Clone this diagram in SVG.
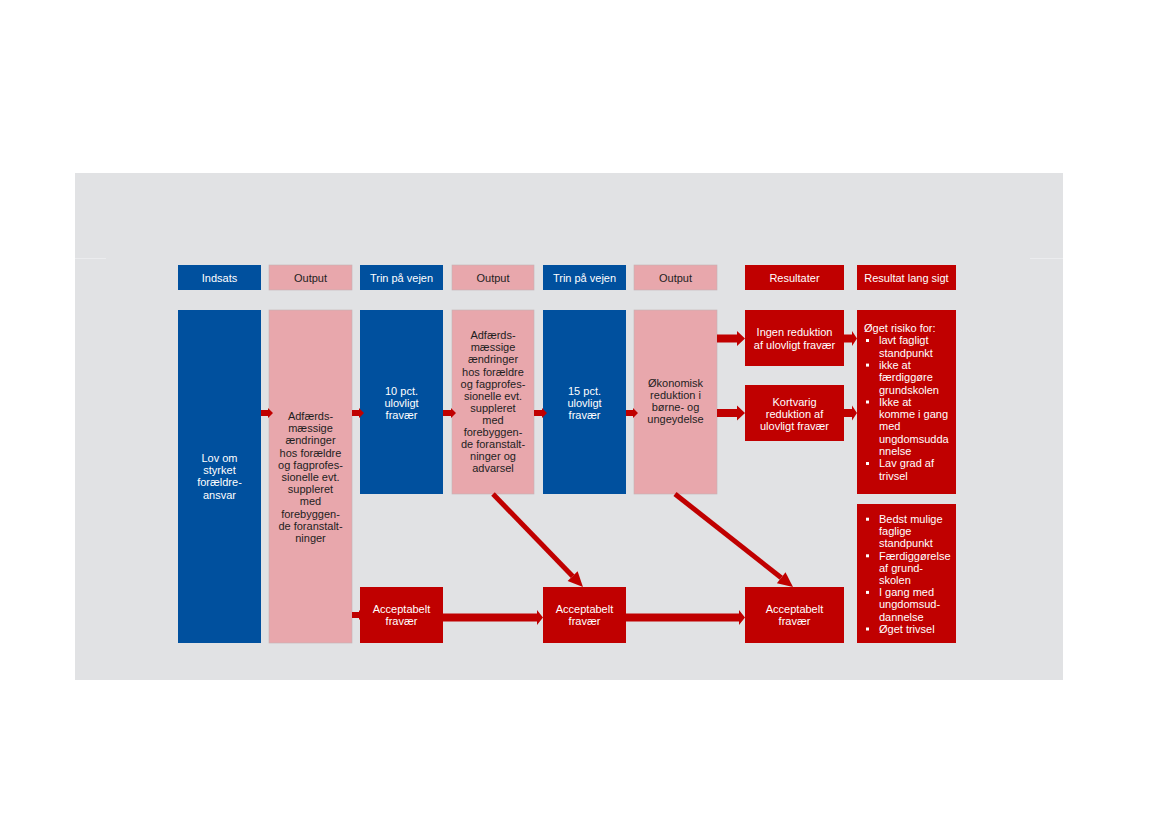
<svg xmlns="http://www.w3.org/2000/svg" width="1169" height="827" viewBox="0 0 1169 827">
<style>
.bg{fill:#e1e2e4}
.blue{fill:#00509e}
.pink{fill:#e8a7ac;stroke:#c4b2b4;stroke-width:0.6}
.red{fill:#c00000}
text{font-family:"Liberation Sans",Arial,sans-serif;font-size:11px}
.w{fill:#ffffff}
.d{fill:#1e1e1e}
.c{text-anchor:middle}
.arr{fill:#c00000}
.ln{stroke:#c00000;stroke-width:5;fill:none}
</style>
<rect width="1169" height="827" fill="#ffffff"/>
<rect class="bg" x="75" y="173" width="988" height="507"/>
<line x1="75" y1="258.5" x2="106" y2="258.5" stroke="#ebecee" stroke-width="1"/>
<line x1="1030" y1="258.5" x2="1063" y2="258.5" stroke="#ebecee" stroke-width="1"/>

<g id="headers">
<g id="h-indsats"><rect class="blue" x="178" y="265" width="83" height="25"/><text class="w c" x="219.5" y="281.5">Indsats</text></g>
<g id="h-output1"><rect class="pink" x="269" y="265" width="83" height="25"/><text class="d c" x="310.5" y="281.5">Output</text></g>
<g id="h-trin1"><rect class="blue" x="360" y="265" width="83" height="25"/><text class="w c" x="401.5" y="281.5">Trin på vejen</text></g>
<g id="h-output2"><rect class="pink" x="452" y="265" width="82" height="25"/><text class="d c" x="493" y="281.5">Output</text></g>
<g id="h-trin2"><rect class="blue" x="543" y="265" width="83" height="25"/><text class="w c" x="584.5" y="281.5">Trin på vejen</text></g>
<g id="h-output3"><rect class="pink" x="634" y="265" width="83" height="25"/><text class="d c" x="675.5" y="281.5">Output</text></g>
<g id="h-resultater"><rect class="red" x="745" y="265" width="99" height="25"/><text class="w c" x="794.5" y="281.5">Resultater</text></g>
<g id="h-langsigt"><rect class="red" x="857" y="265" width="99" height="25"/><text class="w c" x="906.5" y="281.5">Resultat lang sigt</text></g>
</g>

<g id="lov">
<rect class="blue" x="178" y="310" width="83" height="333"/>
<text class="w c" x="219.5" y="462">Lov om</text>
<text class="w c" x="219.5" y="474.2">styrket</text>
<text class="w c" x="219.5" y="486.4">forældre-</text>
<text class="w c" x="219.5" y="498.6">ansvar</text>
</g>

<g id="adfaerd1">
<rect class="pink" x="269" y="310" width="83" height="333"/>
<text class="d c" x="310.5" y="420">Adfærds-</text>
<text class="d c" x="310.5" y="432.2">mæssige</text>
<text class="d c" x="310.5" y="444.4">ændringer</text>
<text class="d c" x="310.5" y="456.6">hos forældre</text>
<text class="d c" x="310.5" y="468.8">og fagprofes-</text>
<text class="d c" x="310.5" y="481">sionelle evt.</text>
<text class="d c" x="310.5" y="493.2">suppleret</text>
<text class="d c" x="310.5" y="505.4">med</text>
<text class="d c" x="310.5" y="517.6">forebyggen-</text>
<text class="d c" x="310.5" y="529.8">de foranstalt-</text>
<text class="d c" x="310.5" y="542">ninger</text>
</g>

<g id="pct10">
<rect class="blue" x="360" y="310" width="83" height="184"/>
<text class="w c" x="401.5" y="394.5">10 pct.</text>
<text class="w c" x="401.5" y="406.7">ulovligt</text>
<text class="w c" x="401.5" y="418.9">fravær</text>
</g>

<g id="accept1">
<rect class="red" x="360" y="587" width="83" height="56"/>
<text class="w c" x="401.5" y="612.8">Acceptabelt</text>
<text class="w c" x="401.5" y="625">fravær</text>
</g>

<g id="adfaerd2">
<rect class="pink" x="452" y="310" width="82" height="184"/>
<text class="d c" x="493" y="339.2">Adfærds-</text>
<text class="d c" x="493" y="351.3">mæssige</text>
<text class="d c" x="493" y="363.4">ændringer</text>
<text class="d c" x="493" y="375.5">hos forældre</text>
<text class="d c" x="493" y="387.6">og fagprofes-</text>
<text class="d c" x="493" y="399.7">sionelle evt.</text>
<text class="d c" x="493" y="411.8">suppleret</text>
<text class="d c" x="493" y="423.9">med</text>
<text class="d c" x="493" y="436">forebyggen-</text>
<text class="d c" x="493" y="448.1">de foranstalt-</text>
<text class="d c" x="493" y="460.2">ninger og</text>
<text class="d c" x="493" y="472.3">advarsel</text>
</g>

<g id="pct15">
<rect class="blue" x="543" y="310" width="83" height="184"/>
<text class="w c" x="584.5" y="394.5">15 pct.</text>
<text class="w c" x="584.5" y="406.7">ulovligt</text>
<text class="w c" x="584.5" y="418.9">fravær</text>
</g>

<g id="accept2">
<rect class="red" x="543" y="587" width="83" height="56"/>
<text class="w c" x="584.5" y="612.8">Acceptabelt</text>
<text class="w c" x="584.5" y="625">fravær</text>
</g>

<g id="oekonomisk">
<rect class="pink" x="634" y="310" width="83" height="184"/>
<text class="d c" x="675.5" y="386.7">Økonomisk</text>
<text class="d c" x="675.5" y="398.9">reduktion i</text>
<text class="d c" x="675.5" y="411.1">børne- og</text>
<text class="d c" x="675.5" y="423.3">ungeydelse</text>
</g>

<g id="ingen">
<rect class="red" x="745" y="310" width="99" height="56"/>
<text class="w c" x="794.5" y="336.3">Ingen reduktion</text>
<text class="w c" x="794.5" y="348.5">af ulovligt fravær</text>
</g>

<g id="kortvarig">
<rect class="red" x="745" y="385" width="99" height="56"/>
<text class="w c" x="794.5" y="405.7">Kortvarig</text>
<text class="w c" x="794.5" y="417.9">reduktion af</text>
<text class="w c" x="794.5" y="430.1">ulovligt fravær</text>
</g>

<g id="accept3">
<rect class="red" x="745" y="587" width="99" height="56"/>
<text class="w c" x="794.5" y="612.8">Acceptabelt</text>
<text class="w c" x="794.5" y="625">fravær</text>
</g>

<g id="oeget-risiko">
<rect class="red" x="857" y="310" width="99" height="184"/>
<text class="w" x="864" y="332">Øget risiko for:</text>
<rect class="w" x="866" y="339" width="3" height="3"/>
<text class="w" x="879" y="344.3">lavt fagligt</text>
<text class="w" x="879" y="356.6">standpunkt</text>
<rect class="w" x="866" y="363.6" width="3" height="3"/>
<text class="w" x="879" y="368.9">ikke at</text>
<text class="w" x="879" y="381.2">færdiggøre</text>
<text class="w" x="879" y="393.5">grundskolen</text>
<rect class="w" x="866" y="400.5" width="3" height="3"/>
<text class="w" x="879" y="405.8">Ikke at</text>
<text class="w" x="879" y="418.1">komme i gang</text>
<text class="w" x="879" y="430.4">med</text>
<text class="w" x="879" y="442.7">ungdomsudda</text>
<text class="w" x="879" y="455">nnelse</text>
<rect class="w" x="866" y="462" width="3" height="3"/>
<text class="w" x="879" y="467.3">Lav grad af</text>
<text class="w" x="879" y="479.6">trivsel</text>
</g>

<g id="bedst-mulige">
<rect class="red" x="857" y="504" width="99" height="139"/>
<rect class="w" x="866" y="517.7" width="3" height="3"/>
<text class="w" x="879" y="523">Bedst mulige</text>
<text class="w" x="879" y="535.2">faglige</text>
<text class="w" x="879" y="547.4">standpunkt</text>
<rect class="w" x="866" y="554.3" width="3" height="3"/>
<text class="w" x="879" y="559.6">Færdiggørelse</text>
<text class="w" x="879" y="571.8">af grund-</text>
<text class="w" x="879" y="584">skolen</text>
<rect class="w" x="866" y="590.9" width="3" height="3"/>
<text class="w" x="879" y="596.2">I gang med</text>
<text class="w" x="879" y="608.4">ungdomsud-</text>
<text class="w" x="879" y="620.6">dannelse</text>
<rect class="w" x="866" y="627.5" width="3" height="3"/>
<text class="w" x="879" y="632.8">Øget trivsel</text>
</g>

<g id="connectors">
<polygon class="arr" points="261,410 268,410 268,408 273,413 268,418 268,416 261,416"/>
<polygon class="arr" points="352,410 359,410 359,408 364,413 359,418 359,416 352,416"/>
<polygon class="arr" points="443,410 451,410 451,408 456,413 451,418 451,416 443,416"/>
<polygon class="arr" points="534,410 542,410 542,408 547,413 542,418 542,416 534,416"/>
<polygon class="arr" points="626,410 633,410 633,408 638,413 633,418 633,416 626,416"/>
<polygon class="arr" points="717,334.5 737,334.5 737,331 745,338.5 737,346 737,342.5 717,342.5"/>
<polygon class="arr" points="717,409 737,409 737,405.5 745,413 737,420.5 737,417 717,417"/>
<polygon class="arr" points="844,334.5 852,334.5 852,331 857,338.5 852,346 852,342.5 844,342.5"/>
<polygon class="arr" points="844,409 852,409 852,405.5 857,413 852,420.5 852,417 844,417"/>
<polygon class="arr" points="352,612 359,612 359,610 364,615 359,620 359,618 352,618"/>
<polygon class="arr" points="443,613.5 537,613.5 537,610 543,617.5 537,625 537,621.5 443,621.5"/>
<polygon class="arr" points="626,613.5 739,613.5 739,610 745,617.5 739,625 739,621.5 626,621.5"/>
<line class="ln" x1="493" y1="494" x2="572.6" y2="576.2"/>
<polygon class="arr" points="583,587 567.6,581.1 577.6,571.3"/>
<line class="ln" x1="675" y1="494" x2="781.2" y2="577.7"/>
<polygon class="arr" points="793,587 776.9,583.2 785.5,572.2"/>
</g>
</svg>
